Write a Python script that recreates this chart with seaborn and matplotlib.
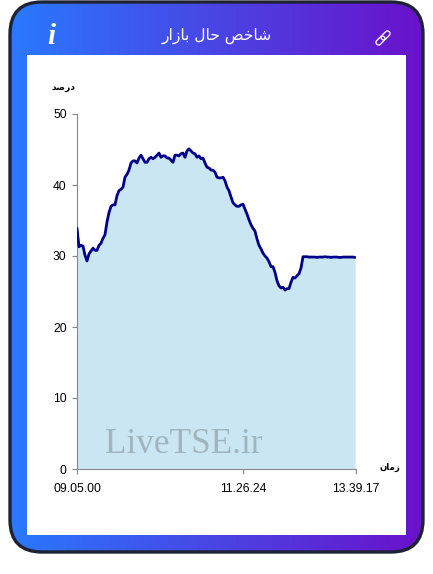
import numpy as np
import pandas as pd
import matplotlib
matplotlib.use("Agg")
import matplotlib.pyplot as plt
from matplotlib.patches import FancyBboxPatch, Rectangle
from matplotlib.transforms import Affine2D
import seaborn as sns

values = [33.9,31.3,31.5,31.4,30.1,29.3,30.3,30.7,31.1,30.8,30.8,31.5,31.8,32.5,33.0,34.8,36.1,37.0,37.2,37.2,
          38.5,39.2,39.4,39.7,41.1,41.5,42.1,43.1,43.4,43.4,43.1,43.8,44.2,43.7,43.2,43.2,43.7,43.9,43.7,43.9,
          44.2,44.5,43.9,44.1,44.1,43.8,43.8,43.5,43.2,44.2,44.2,44.1,44.4,44.5,43.9,44.8,45.1,44.8,44.5,44.4,
          43.9,44.1,43.7,43.8,43.1,42.5,42.4,42.1,42.1,41.8,41.1,41.0,41.0,41.1,40.6,39.7,39.2,38.3,37.5,37.2,
          37.0,37.0,37.2,37.3,36.6,35.9,35.1,34.4,33.9,33.5,32.4,31.5,31.0,30.4,30.0,29.7,29.2,28.5,28.5,27.7,
          26.5,25.8,25.5,25.6,25.2,25.4,25.4,26.3,27.0,26.9,27.2,27.5,28.3,29.9,29.9,29.9,29.85,29.85,29.85,29.85,
          29.8,29.85,29.85,29.85,29.9,29.85,29.85,29.8,29.85,29.85,29.85,29.8,29.8,29.85,29.85,29.85,29.85,29.85,29.85,29.8]
y_ticks = [0, 10, 20, 30, 40, 50]
x_tick_pos = [0, 83, 139.5]
x_tick_labels = ["09.05.00", "11.26.24", "13.39.17"]
# Arabic in shaped presentation forms, visual order (matplotlib has no shaping or bidi)
title_text = "\uFEAD\uFE8D\uFEAF\uFE8E\uFE91 \uFEDD\uFE8E\uFEA3 \uFEBA\uFEA7\uFE8E\uFEB7"
y_title = "\uFEAA\uFEBB\uFEAD\uFEA9"
x_title = "\uFEE5\uFE8E\uFEE3\uFEAF"
watermark = "LiveTSE.ir"

W, H = 433, 574
sns.set_theme(style="white")
plt.rcParams["font.family"] = ["Liberation Sans", "DejaVu Sans"]
fig = plt.figure(figsize=(W / 100, H / 100), dpi=100, facecolor="white")

# Card background in pixel coordinates
bg = fig.add_axes([0, 0, 1, 1], zorder=0)
bg.set_xlim(0, W)
bg.set_ylim(H, 0)
bg.axis("off")
grad = np.linspace(0, 1, 256)[None, :]
cmap = matplotlib.colors.LinearSegmentedColormap.from_list("g", ["#2979ff", "#6a11cb"])
card = FancyBboxPatch((10, 2), 413, 550, boxstyle="round,pad=0,rounding_size=32",
                      facecolor="none", edgecolor="#1f2233", linewidth=2.4, zorder=3)
bg.add_patch(card)
im = bg.imshow(grad, extent=(10, 423, 552, 2), aspect="auto", cmap=cmap, zorder=1)
im.set_clip_path(card)
bg.set_xlim(0, W)
bg.set_ylim(H, 0)
bg.add_patch(Rectangle((27, 55), 379, 480, facecolor="white", edgecolor="none", zorder=4))
bg.text(217, 36, title_text, color="white", fontsize=11.2, ha="center", va="center",
        family="DejaVu Sans", zorder=5)
bg.text(51, 37, "i", color="white", fontsize=21, ha="center", va="center",
        family="Liberation Serif", style="italic", weight="bold", zorder=5)
for dy in (-3.6, 3.6):
    link = FancyBboxPatch((383 - 2.6, 38 + dy - 5.2), 5.2, 10.4,
                          boxstyle="round,pad=0,rounding_size=2.5", facecolor="none",
                          edgecolor="white", linewidth=0.9, zorder=5,
                          transform=Affine2D().rotate_deg_around(383, 38, 45) + bg.transData)
    bg.add_patch(link)
bg.text(63, 88, y_title, fontsize=6.6, weight="bold", color="black", ha="center", va="center",
        family="DejaVu Sans", zorder=5)
bg.text(390, 467, x_title, fontsize=6.2, weight="bold", color="black", ha="center", va="center",
        family="DejaVu Sans", zorder=5)

# Chart
x0, x1, y_top, y_bot = 76.5, 356, 114, 469
ax = fig.add_axes([x0 / W, 1 - y_bot / H, (x1 - x0) / W, (y_bot - y_top) / H], zorder=2)
ax.patch.set_alpha(0)
df = pd.DataFrame({"idx": np.arange(len(values)), "value": values})
ax.fill_between(df["idx"], df["value"], 0, color="#cae6f2", linewidth=0, zorder=1)
sns.lineplot(data=df, x="idx", y="value", ax=ax, color="#00008b", linewidth=2.0, zorder=3)
ax.set_xlim(-0.25, 139.5)
ax.set_ylim(0, 50)
ax.set_xlabel("")
ax.set_ylabel("")
ax.set_yticks(y_ticks)
ax.set_xticks(x_tick_pos)
ax.set_xticklabels(x_tick_labels)
ax.tick_params(axis="both", which="major", length=3.6, width=0.8, color="#888888",
               labelsize=8.7, labelcolor="black", bottom=True, left=True)
ax.tick_params(axis="y", pad=3.5)
ax.tick_params(axis="x", pad=6.5)
for s in ("top", "right"):
    ax.spines[s].set_visible(False)
for s in ("left", "bottom"):
    ax.spines[s].set_color("#888888")
    ax.spines[s].set_linewidth(0.8)
ax.text(105, 453, watermark, transform=bg.transData, family="Liberation Serif", fontsize=25.4,
        color="#7f8f96", alpha=0.55, ha="left", va="baseline", zorder=4)

fig.savefig("out.png", dpi=100)
